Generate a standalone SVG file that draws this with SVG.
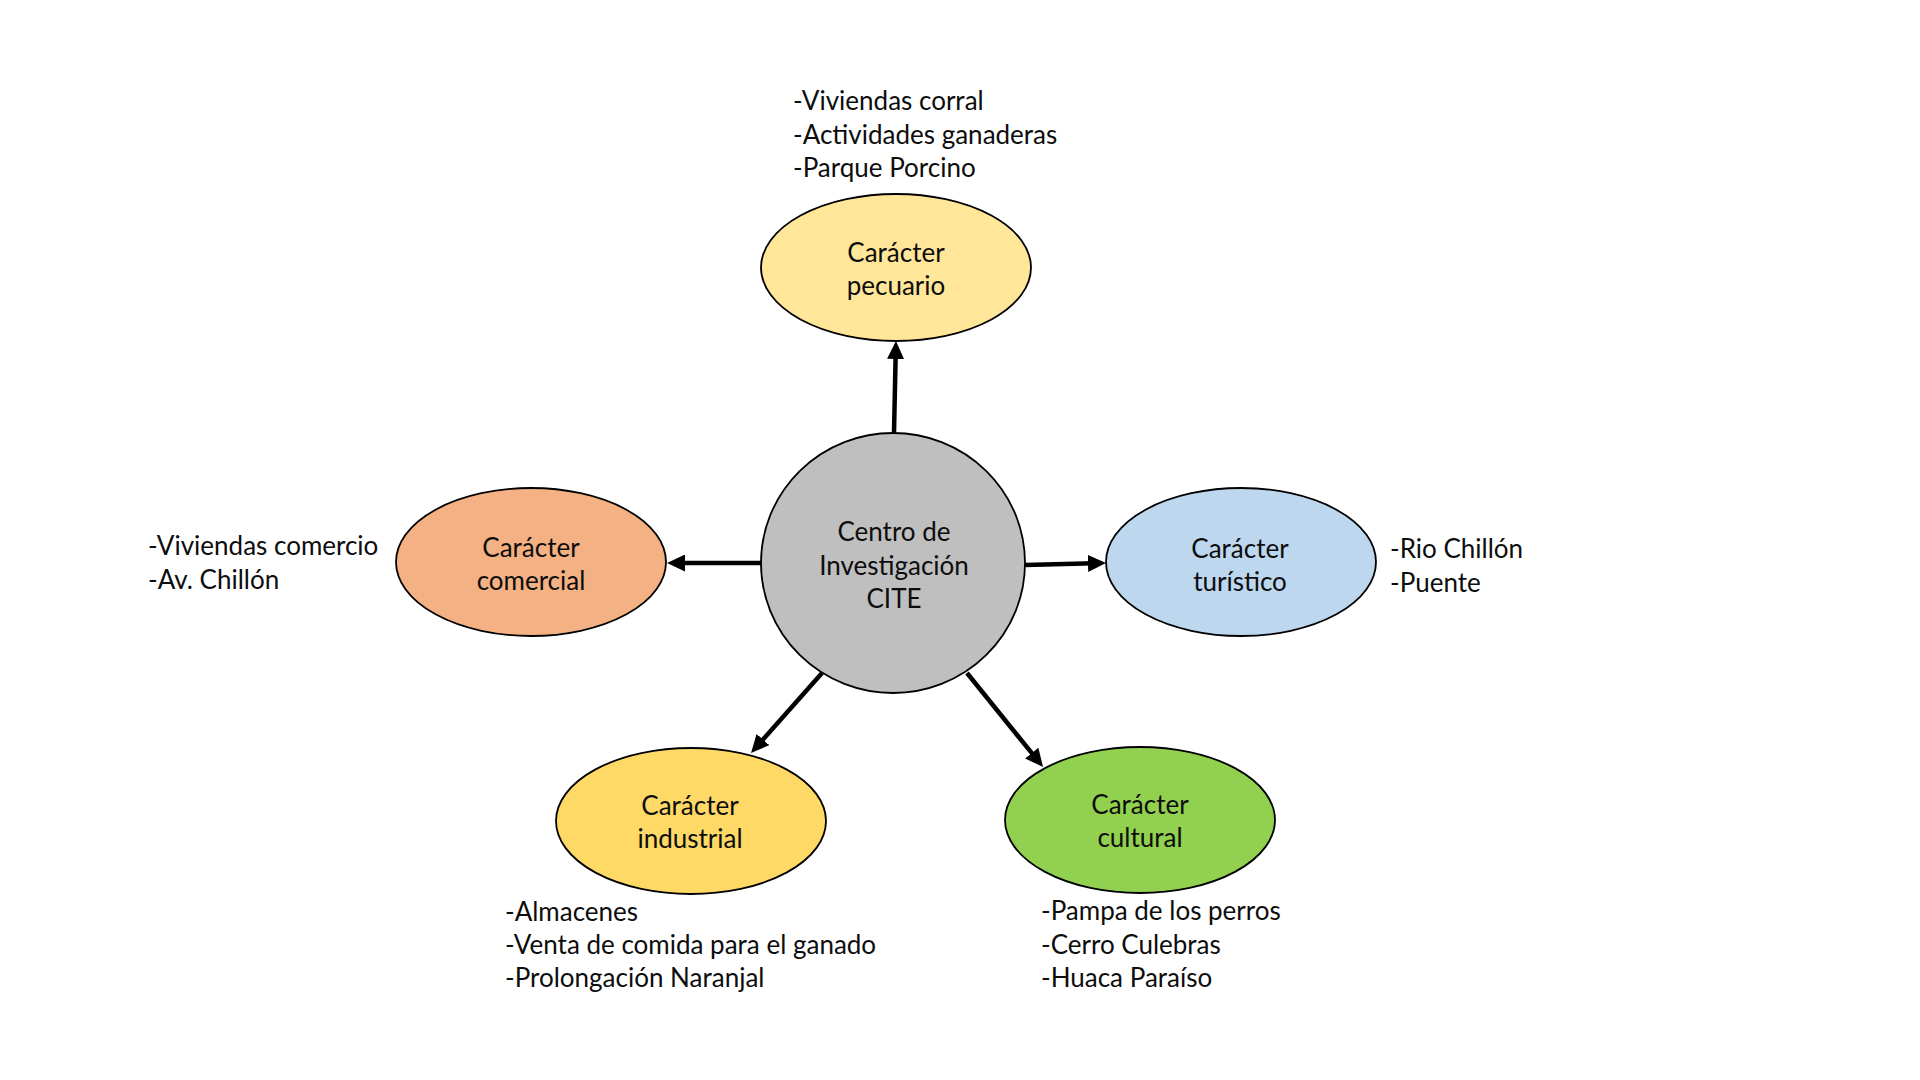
<svg xmlns="http://www.w3.org/2000/svg" width="1920" height="1080" viewBox="0 0 1920 1080">
<style>
.node{stroke:#000;stroke-width:1.8}
.t{font-family:Lato,"Liberation Sans",sans-serif;font-size:26px;fill:#0d0d0d}
.c{text-anchor:middle}
.conn{stroke:#000;stroke-width:4.5;fill:none;marker-end:url(#ah)}
</style>
<defs>
<marker id="ah" markerUnits="userSpaceOnUse" markerWidth="18" markerHeight="17" refX="6" refY="8.5" orient="auto" viewBox="0 0 18 17">
<path d="M0,0 L18,8.5 L0,17 z" fill="#000"/>
</marker>
</defs>
<rect width="1920" height="1080" fill="#fff"/>
<g id="connectors">
<line class="conn" x1="894" y1="433" x2="895.7" y2="353"/>
<line class="conn" x1="761" y1="563" x2="679" y2="563"/>
<line class="conn" x1="1025" y1="565" x2="1094" y2="563.3"/>
<line class="conn" x1="822" y1="673" x2="759" y2="744"/>
<line class="conn" x1="967" y1="673" x2="1035.5" y2="757.7"/>
</g>
<g id="center">
<ellipse class="node" cx="893" cy="563" rx="132" ry="130" fill="#BFBFBF"/>
<text class="t c" x="894" y="541">Centro de</text>
<text class="t c" x="894" y="575">Investigación</text>
<text class="t c" x="894" y="608">CITE</text>
</g>
<g id="pecuario">
<ellipse class="node" cx="896" cy="267.5" rx="135" ry="73.5" fill="#FFE699"/>
<text class="t c" x="896" y="262">Carácter</text>
<text class="t c" x="896" y="295">pecuario</text>
<text class="t" x="793" y="110">-Viviendas corral</text>
<text class="t" x="793" y="144">-Actividades ganaderas</text>
<text class="t" x="793" y="177">-Parque Porcino</text>
</g>
<g id="comercial">
<ellipse class="node" cx="531" cy="562" rx="135" ry="74" fill="#F4B183"/>
<text class="t c" x="531" y="557">Carácter</text>
<text class="t c" x="531" y="590">comercial</text>
<text class="t" x="148" y="555">-Viviendas comercio</text>
<text class="t" x="148" y="589">-Av. Chillón</text>
</g>
<g id="turistico">
<ellipse class="node" cx="1241" cy="562" rx="135" ry="74" fill="#BDD7EE"/>
<text class="t c" x="1240" y="558">Carácter</text>
<text class="t c" x="1240" y="591">turístico</text>
<text class="t" x="1390" y="558">-Rio Chillón</text>
<text class="t" x="1390" y="592">-Puente</text>
</g>
<g id="industrial">
<ellipse class="node" cx="691" cy="821" rx="135" ry="73" fill="#FFD966"/>
<text class="t c" x="690" y="815">Carácter</text>
<text class="t c" x="690" y="848">industrial</text>
<text class="t" x="505" y="921">-Almacenes</text>
<text class="t" x="505" y="954">-Venta de comida para el ganado</text>
<text class="t" x="505" y="987">-Prolongación Naranjal</text>
</g>
<g id="cultural">
<ellipse class="node" cx="1140" cy="820" rx="135" ry="73" fill="#92D050"/>
<text class="t c" x="1140" y="814">Carácter</text>
<text class="t c" x="1140" y="847">cultural</text>
<text class="t" x="1041" y="920">-Pampa de los perros</text>
<text class="t" x="1041" y="954">-Cerro Culebras</text>
<text class="t" x="1041" y="987">-Huaca Paraíso</text>
</g>
</svg>
